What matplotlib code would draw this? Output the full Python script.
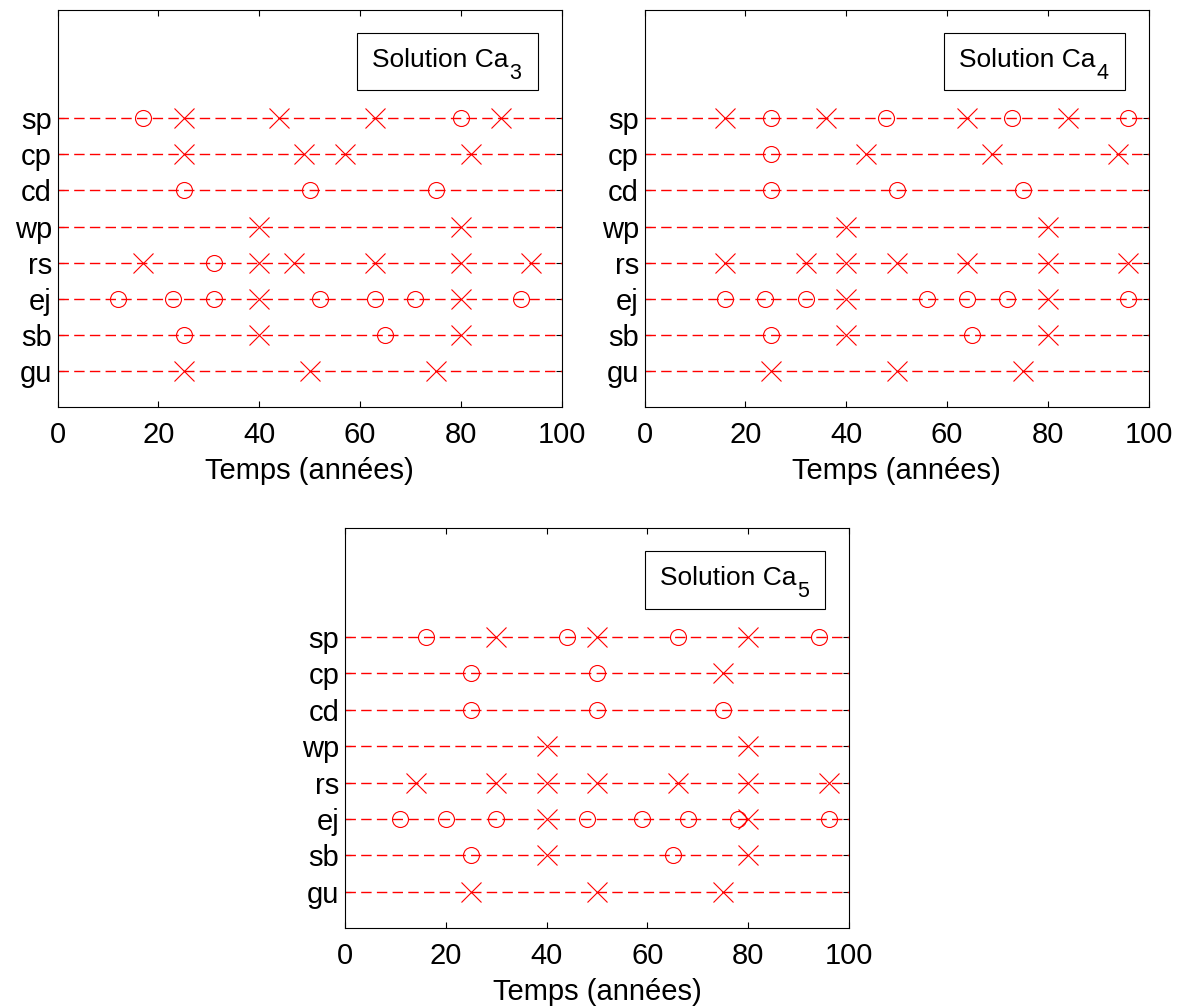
import matplotlib
matplotlib.use("Agg")
import matplotlib.pyplot as plt
from matplotlib.patches import Rectangle

plt.rcParams.update({
    "font.family": ["Liberation Sans", "DejaVu Sans"],
})

ROWS = ["gu", "sb", "ej", "rs", "wp", "cd", "cp", "sp"]   # y = 1..8
XTICKS = [0, 20, 40, 60, 80, 100]

# circles (o) and crosses (x) per row, years
ca3_circles = {"sp": [17, 80], "cd": [25, 50, 75], "rs": [31],
               "ej": [12, 23, 31, 52, 63, 71, 92], "sb": [25, 65]}
ca3_crosses = {"sp": [25, 44, 63, 88], "cp": [25, 49, 57, 82], "wp": [40, 80],
               "rs": [17, 40, 47, 63, 80, 94], "ej": [40, 80], "sb": [40, 80],
               "gu": [25, 50, 75]}

ca4_circles = {"sp": [25, 48, 73, 96], "cp": [25], "cd": [25, 50, 75],
               "ej": [16, 24, 32, 56, 64, 72, 96], "sb": [25, 65]}
ca4_crosses = {"sp": [16, 36, 64, 84], "cp": [44, 69, 94], "wp": [40, 80],
               "rs": [16, 32, 40, 50, 64, 80, 96], "ej": [40, 80], "sb": [40, 80],
               "gu": [25, 50, 75]}

ca5_circles = {"sp": [16, 44, 66, 94], "cp": [25, 50], "cd": [25, 50, 75],
               "ej": [11, 20, 30, 48, 59, 68, 78, 96], "sb": [25, 65]}
ca5_crosses = {"sp": [30, 50, 80], "cp": [75], "wp": [40, 80],
               "rs": [14, 30, 40, 50, 66, 80, 96], "ej": [40, 80], "sb": [40, 80],
               "gu": [25, 50, 75]}

PANELS = [
    ("3", ca3_circles, ca3_crosses, [57.5 / 1180, 1 - 407 / 1008, 504 / 1180, 397 / 1008]),
    ("4", ca4_circles, ca4_crosses, [644.5 / 1180, 1 - 407 / 1008, 504 / 1180, 397 / 1008]),
    ("5", ca5_circles, ca5_crosses, [345 / 1180, 1 - 928 / 1008, 504 / 1180, 400 / 1008]),
]

RED = "#FF0000"
FS = 21
fig = plt.figure(figsize=(11.8, 10.08), dpi=100)

for label, circles, crosses, rect in PANELS:
    ax = fig.add_axes(rect)
    for yi, name in enumerate(ROWS, start=1):
        ax.plot([0, 100], [yi, yi], color=RED, lw=1.0, dashes=(7.5, 3.8))
        xs = crosses.get(name, [])
        ax.plot(xs, [yi] * len(xs), ls="none", marker="x", ms=14.5,
                mew=0.8, color=RED)
        xs = circles.get(name, [])
        ax.plot(xs, [yi] * len(xs), ls="none", marker="o", ms=11.5,
                mew=0.8, mfc="none", mec=RED)
    ax.set_xlim(0, 100)
    ax.set_ylim(0, 11)
    ax.set_xticks(XTICKS)
    ax.set_yticks(range(1, len(ROWS) + 1))
    ax.set_yticklabels(ROWS)
    ax.tick_params(direction="in", length=4, width=0.8, labelsize=FS,
                   top=True, right=True)
    ax.tick_params(axis="x", pad=10)
    ax.tick_params(axis="y", pad=4)
    for sp in ax.spines.values():
        sp.set_linewidth(0.8)
    ax.set_xlabel("Temps (années)", fontsize=FS, labelpad=6)

    # legend-like box "Solution Ca_n"
    ax.add_patch(Rectangle((0.595, 0.798), 0.358, 0.144, transform=ax.transAxes,
                           facecolor="white", edgecolor="black", lw=0.8, zorder=5))
    main = ax.annotate("Solution Ca", xy=(0.774, 0.857), xycoords="axes fraction",
                       xytext=(-5, 0), textcoords="offset points",
                       ha="center", va="baseline", fontsize=19, zorder=6)
    ax.annotate(label, xy=(1, 0), xycoords=main, xytext=(0.5, -5),
                textcoords="offset points", ha="left", va="baseline",
                fontsize=15.5, zorder=6)

fig.savefig("out.png", dpi=100)
